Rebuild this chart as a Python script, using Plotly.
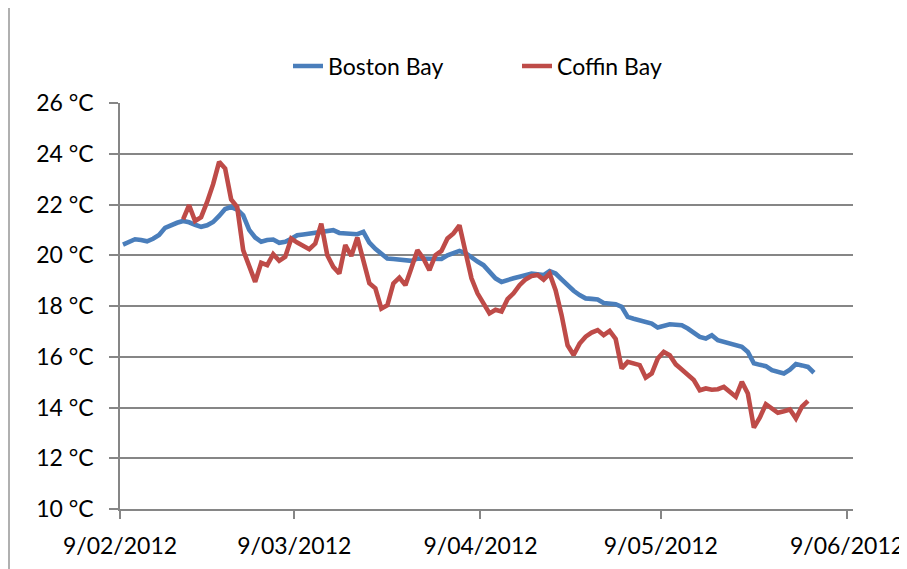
import pandas as pd
import plotly.graph_objects as go

# ---- data ----
boston_start = "2012-02-09 12:00"
boston_temp = [
    20.42, 20.55, 20.63, 20.60, 20.55, 20.65, 20.80, 21.08, 21.20, 21.28,
    21.35, 21.30, 21.20, 21.12, 21.18, 21.31, 21.55, 21.82, 21.90, 21.80,
    21.57, 21.00, 20.70, 20.53, 20.60, 20.62, 20.49, 20.53, 20.65, 20.79,
    20.82, 20.86, 20.90, 20.92, 20.95, 20.99, 20.88, 20.86, 20.86, 20.83,
    20.92, 20.50, 20.25, 20.07, 19.87, 19.85, 19.83, 19.80, 19.78, 19.87,
    19.87, 19.87, 19.86, 19.85, 20.00, 20.07, 20.17, 20.09, 19.90, 19.75,
    19.61, 19.35, 19.09, 18.95, 19.00, 19.09, 19.15, 19.22, 19.28, 19.25,
    19.22, 19.38, 19.28, 19.05, 18.82, 18.60, 18.43, 18.30, 18.28, 18.26,
    18.12, 18.10, 18.07, 17.97, 17.57, 17.50, 17.44, 17.38, 17.31, 17.15,
    17.20, 17.28, 17.26, 17.24, 17.11, 16.95, 16.78, 16.72, 16.85, 16.65,
    16.58, 16.52, 16.42, 16.39, 16.19, 15.74, 15.68, 15.63, 15.47, 15.40,
    15.34, 15.49, 15.71, 15.66, 15.60, 15.37,
]

coffin_start = "2012-02-19 12:00"
coffin_temp = [
    21.41, 21.97, 21.35, 21.50, 22.10, 22.80, 23.68, 23.42, 22.20, 21.90,
    20.20, 19.60, 18.95, 19.70, 19.61, 20.04, 19.78, 19.94, 20.66, 20.50,
    20.35, 20.24, 20.46, 21.24, 20.00, 19.54, 19.28, 20.40, 19.97, 20.70,
    19.80, 18.90, 18.70, 17.90, 18.03, 18.89, 19.12, 18.82, 19.50, 20.20,
    19.87, 19.41, 20.00, 20.17, 20.66, 20.86, 21.18, 20.13, 19.09, 18.50,
    18.10, 17.71, 17.85, 17.78, 18.27, 18.50, 18.82, 19.05, 19.18, 19.22,
    19.04, 19.28, 18.62, 17.64, 16.45, 16.07, 16.52, 16.79, 16.95, 17.05,
    16.85, 17.02, 16.70, 15.54, 15.80, 15.72, 15.67, 15.18, 15.34, 15.93,
    16.19, 16.06, 15.70, 15.50, 15.27, 15.08, 14.68, 14.75, 14.70, 14.72,
    14.81, 14.62, 14.42, 15.01, 14.55, 13.21, 13.61, 14.13, 13.95, 13.79,
    13.85, 13.92, 13.57, 14.03, 14.26,
]

x_tick_dates = ["2012-02-09", "2012-03-09", "2012-04-09", "2012-05-09", "2012-06-09"]
x_tick_labels = ["9/02/2012", "9/03/2012", "9/04/2012", "9/05/2012", "9/06/2012"]
y_tick_values = [10, 12, 14, 16, 18, 20, 22, 24, 26]
y_tick_labels = [f"{v} °C" for v in y_tick_values]

boston_dates = pd.date_range(boston_start, periods=len(boston_temp), freq="D")
coffin_dates = pd.date_range(coffin_start, periods=len(coffin_temp), freq="D")

BLUE = "#4A7EBB"
RED = "#BE4B48"
GRID = "#868686"
FONT = "Lato"
FS = 23

# The page body adds an 8px offset, so the figure is laid out in screen pixels minus 8.
OFF = 8
W, H = 907 - OFF, 569 - OFF
L, T = 120 - OFF, 103 - OFF
R = W - (853 - OFF)
B = H - (509 - OFF)
pw, ph = W - L - R, H - T - B

def px_x(x):  # screen x -> paper
    return (x - OFF - L) / pw

def px_y(y):  # screen y -> paper
    return (H - B - (y - OFF)) / ph

fig = go.Figure()
fig.add_trace(go.Scatter(x=boston_dates, y=boston_temp, mode="lines", name="Boston Bay",
                         line=dict(color=BLUE, width=4.6)))
fig.add_trace(go.Scatter(x=coffin_dates, y=coffin_temp, mode="lines", name="Coffin Bay",
                         line=dict(color=RED, width=4.6)))

fig.update_layout(
    width=W, height=H,
    margin=dict(l=L, r=R, t=T, b=B, autoexpand=False),
    paper_bgcolor="white", plot_bgcolor="white",
    font=dict(family=FONT, size=FS, color="black"),
    showlegend=True,
    legend=dict(orientation="h", x=px_x(288), xanchor="left", y=px_y(66), yanchor="middle",
                font=dict(family=FONT, size=FS, color="black"),
                bgcolor="rgba(0,0,0,0)", itemwidth=30, entrywidth=184),
    xaxis=dict(
        type="date",
        range=["2012-02-09", "2012-06-10"],
        tickmode="array", tickvals=x_tick_dates, ticktext=x_tick_labels,
        showgrid=False, zeroline=False, automargin=False,
        showline=True, linecolor=GRID, linewidth=1.5,
        ticks="outside", ticklen=8, tickcolor=GRID, tickwidth=1.5,
        ticklabelstandoff=8,
        tickfont=dict(family=FONT, size=FS, color="black"),
    ),
    yaxis=dict(
        range=[10, 26],
        tickmode="array", tickvals=y_tick_values, ticktext=y_tick_labels,
        showgrid=True, gridcolor=GRID, gridwidth=1.5,
        zeroline=False, automargin=False,
        showline=True, linecolor=GRID, linewidth=1.5,
        ticks="outside", ticklen=9, tickcolor=GRID, tickwidth=1.5,
        ticklabelstandoff=11,
        tickfont=dict(family=FONT, size=FS, color="black"),
    ),
    shapes=[
        dict(type="line", xref="paper", yref="paper", x0=px_x(9), x1=px_x(9),
             y0=px_y(569), y1=px_y(OFF), line=dict(color=GRID, width=1.3)),
        dict(type="line", xref="paper", yref="paper", x0=px_x(903), x1=px_x(903),
             y0=px_y(569), y1=px_y(OFF), line=dict(color=GRID, width=1.3)),
    ],
)

fig.write_html("out.html")
